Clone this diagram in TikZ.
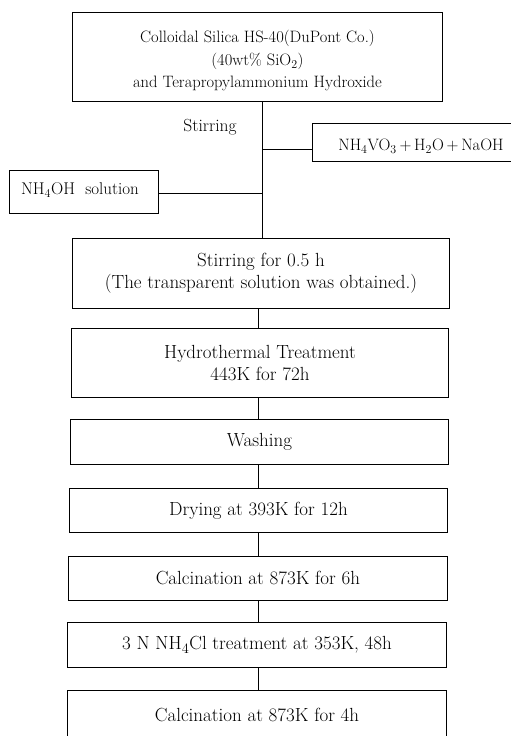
\documentclass[tikz,border=0pt]{standalone}
\begin{document}
\begin{tikzpicture}[x=1pt,y=-1pt,
  box/.style={draw,line width=0.9pt,anchor=north west,inner sep=0pt,align=center,font=\fontsize{19}{22}\selectfont},
  txt/.style={inner sep=0pt,align=center},
  conn/.style={line width=0.8pt}]
\useasboundingbox (0,0) rectangle (511,736);
\node[box,minimum width=370,minimum height=89] (top) at (72,12) {};
\node[txt,font=\fontsize{16.5}{22.5}\selectfont] (toptxt) at ([yshift=-4pt]top.center) {Colloidal Silica HS-40(DuPont Co.)\\(40wt\% SiO$_2$)\\and Terapropylammonium Hydroxide};
\node[font=\fontsize{17.5}{20}\selectfont] (stirlbl) at (210,127) {Stirring};
\node[box,minimum width=199,minimum height=38] (vo) at (312,123) {};
\node[txt,font=\fontsize{16.5}{19}\selectfont] (votxt) at (421,146) {NH$_4$VO$_3$\,+\,H$_2$O\,+\,NaOH};
\node[box,minimum width=149,minimum height=43] (nh) at (9,170) {};
\node[txt,font=\fontsize{17}{19}\selectfont] (nhtxt) at (80,190) {NH$_4$OH\ \ solution};
\node[box,minimum width=377,minimum height=70] (stir) at (72,238) {Stirring for 0.5 h\\(The transparent solution was obtained.)};
\node[box,minimum width=377,minimum height=69] (hyd) at (71,328) {Hydrothermal Treatment\\443K for 72h};
\node[box,minimum width=378,minimum height=45] (wash) at (70,419) {Washing};
\node[box,minimum width=378,minimum height=44] (dry) at (69,488) {Drying at 393K for 12h};
\node[box,minimum width=379,minimum height=44] (cal1) at (68,556) {Calcination at 873K for 6h};
\node[box,minimum width=379,minimum height=45] (nhcl) at (67,622) {3 N NH$_4$Cl treatment at 353K, 48h};
\node[box,minimum width=379,minimum height=50] (cal2) at (67,690) {};
\node[txt,font=\fontsize{19}{22}\selectfont] (cal2txt) at (257,715) {Calcination at 873K for 4h};
\coordinate (j1) at (262,149);
\coordinate (j2) at (262,193);
\coordinate (c) at (258,0);
\draw[conn] (top.south -| j1) -- (stir.north -| j1);
\draw[conn] (j1) -- (vo.west |- j1);
\draw[conn] (nh.east |- j2) -- (j2);
\draw[conn] (stir.south -| c) -- (hyd.north -| c);
\draw[conn] (hyd.south -| c) -- (wash.north -| c);
\draw[conn] (wash.south -| c) -- (dry.north -| c);
\draw[conn] (dry.south -| c) -- (cal1.north -| c);
\draw[conn] (cal1.south -| c) -- (nhcl.north -| c);
\draw[conn] (nhcl.south -| c) -- (cal2.north -| c);
\end{tikzpicture}
\end{document}
